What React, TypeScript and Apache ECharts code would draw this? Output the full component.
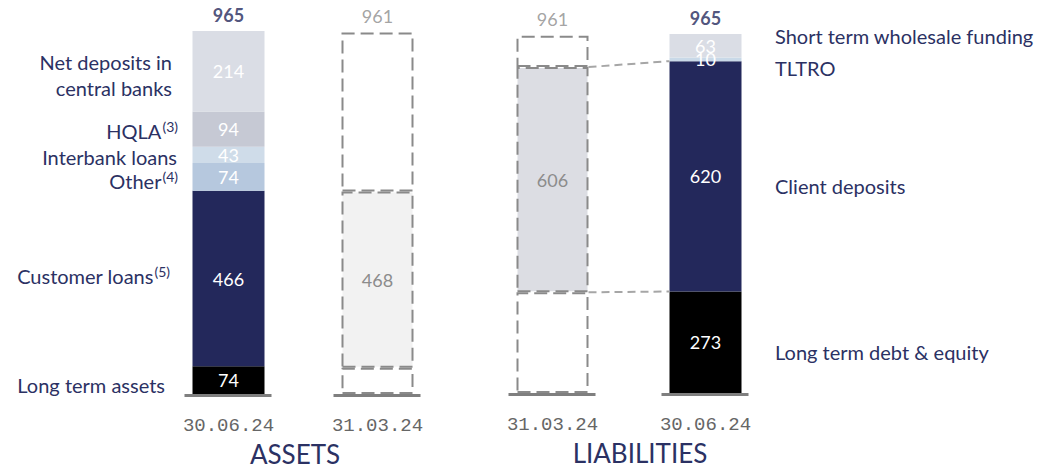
import React, { useEffect, useRef } from 'react';
import * as echarts from 'echarts';

const assetCategories = ['30.06.24', '31.03.24'];
const liabilityCategories = ['31.03.24', '30.06.24'];

const assetLongTerm = [74, 70];
const assetCustomerLoans = [466, 468];
const assetOther = [74, null];
const assetInterbank = [43, null];
const assetHQLA = [94, null];
const assetNetDeposits = [214, null];
const assetPriorRest = [null, 423];
const assetTotals = [965, 961];

const liabLongTerm = [271, 273];
const liabClientDeposits = [606, 620];
const liabTLTRO = [null, 10];
const liabShortTerm = [null, 63];
const liabPriorRest = [84, null];
const liabTotals = [961, 965];

const FONT = 'Lato';
const NAVY = '#23285b';
const TEXT = '#2b3163';
const GRAY_TXT = '#8c8c8c';
const DASH = '#8a8a8a';

const dashedWhite = { color: '#ffffff', borderColor: DASH, borderWidth: 2, borderType: [13, 6] };
const dashedLight = { color: '#f2f2f2', borderColor: DASH, borderWidth: 2, borderType: [13, 6] };
const dashedGray = { color: '#dcdde3', borderColor: DASH, borderWidth: 2, borderType: [13, 6] };

function mk(values: (number | null)[], currentIdx: number, curColor: string, priorStyle: any, priorLabel = false) {
  return values.map((v, i) => {
    if (v == null) return '-';
    if (i === currentIdx) {
      return { value: v, itemStyle: { color: curColor }, label: { show: true, color: '#ffffff' } };
    }
    return { value: v, itemStyle: priorStyle, label: { show: priorLabel, color: GRAY_TXT } };
  });
}

function barSeries(name: string, stack: string, axis: number, data: any[]) {
  return {
    name,
    type: 'bar',
    stack,
    xAxisIndex: axis,
    yAxisIndex: axis,
    barWidth: 72,
    data,
    label: { show: true, position: 'inside', fontSize: 18, fontFamily: FONT, color: '#ffffff' },
    emphasis: { disabled: true },
    z: 2,
  };
}

function totalSeries(axis: number, totals: number[], currentIdx: number) {
  return {
    type: 'scatter',
    xAxisIndex: axis,
    yAxisIndex: axis,
    symbolSize: 1,
    itemStyle: { color: 'transparent' },
    data: totals.map((t, i) => ({
      value: t,
      label: {
        show: true,
        position: 'top',
        distance: 7,
        fontFamily: FONT,
        fontSize: 18,
        fontWeight: i === currentIdx ? 'bold' : 'normal',
        color: i === currentIdx ? NAVY : GRAY_TXT,
        formatter: String(t),
      },
    })),
    z: 6,
  };
}

function baselineSeries(axis: number, cats: string[]) {
  return {
    type: 'custom',
    xAxisIndex: axis,
    yAxisIndex: axis,
    silent: true,
    data: cats.map((_, i) => [i, 0]),
    renderItem: (params: any, api: any) => {
      const p = api.coord([api.value(0), api.value(1)]);
      return {
        type: 'line',
        shape: { x1: p[0] - 44, y1: p[1] + 1.5, x2: p[0] + 43, y2: p[1] + 1.5 },
        style: { stroke: '#7f7f7f', lineWidth: 3 },
      };
    },
    z: 5,
  };
}

const connectorData = [
  [
    0,
    liabLongTerm[0],
    liabLongTerm[0] + liabClientDeposits[0],
    1,
    liabLongTerm[1],
    liabLongTerm[1] + liabClientDeposits[1],
  ],
];

function supText(main: string, sup: string) {
  return `{m|${main}}{s|${sup}}`;
}

export default function App() {
  const ref = useRef<HTMLDivElement>(null);
  useEffect(() => {
    if (!ref.current) return;
    const chart = echarts.init(ref.current, null, { renderer: 'svg' });
    const labelStyle = { fill: TEXT, fontFamily: FONT, fontSize: 20 };
    const rich = {
      m: { fontFamily: FONT, fontSize: 20, fill: TEXT, lineHeight: 24 },
      s: { fontFamily: FONT, fontSize: 14, fill: TEXT, verticalAlign: 'top', lineHeight: 15, padding: [0, 0, 0, 1] },
    };
    const option: any = {
      animation: false,
      backgroundColor: '#ffffff',
      grid: [
        { left: 154, width: 298, top: 31, bottom: 76, containLabel: false, outerBoundsMode: 'none' },
        { left: 476, width: 306, top: 34, bottom: 77, containLabel: false, outerBoundsMode: 'none' },
      ],
      xAxis: [
        {
          type: 'category',
          gridIndex: 0,
          data: assetCategories,
          axisLine: { show: false },
          axisTick: { show: false },
          axisLabel: { margin: 22, fontFamily: 'Liberation Mono', fontSize: 19, color: '#666666' },
          name: 'ASSETS',
          nameLocation: 'middle',
          nameGap: 39,
          nameTextStyle: { fontFamily: FONT, fontSize: 26, lineHeight: 28, color: TEXT, padding: [0, 16, 0, 0] },
        },
        {
          type: 'category',
          gridIndex: 1,
          data: liabilityCategories,
          axisLine: { show: false },
          axisTick: { show: false },
          axisLabel: { margin: 22, fontFamily: 'Liberation Mono', fontSize: 19, color: '#666666' },
          name: 'LIABILITIES',
          nameLocation: 'middle',
          nameGap: 46,
          nameTextStyle: { fontFamily: FONT, fontSize: 26, lineHeight: 28, color: TEXT, padding: [0, 0, 0, 22] },
        },
      ],
      yAxis: [
        { type: 'value', gridIndex: 0, min: 0, max: 965, show: false, splitLine: { show: false } },
        { type: 'value', gridIndex: 1, min: 0, max: 966, show: false, splitLine: { show: false } },
      ],
      series: [
        barSeries('Long term assets', 'a', 0, mk(assetLongTerm, 0, '#000000', dashedWhite)),
        barSeries('Customer loans', 'a', 0, mk(assetCustomerLoans, 0, NAVY, dashedLight, true)),
        barSeries('Other', 'a', 0, mk(assetOther, 0, '#b6c8de', dashedWhite)),
        barSeries('Interbank loans', 'a', 0, mk(assetInterbank, 0, '#cfdce9', dashedWhite)),
        barSeries('HQLA', 'a', 0, mk(assetHQLA, 0, '#c6c9d4', dashedWhite)),
        barSeries('Net deposits in central banks', 'a', 0, mk(assetNetDeposits, 0, '#dadde5', dashedWhite)),
        barSeries('Prior other assets', 'a', 0, mk(assetPriorRest, 0, '#ffffff', dashedWhite)),
        totalSeries(0, assetTotals, 0),
        baselineSeries(0, assetCategories),

        barSeries('Long term debt & equity', 'l', 1, mk(liabLongTerm, 1, '#000000', dashedWhite)),
        barSeries('Client deposits', 'l', 1, mk(liabClientDeposits, 1, NAVY, dashedGray, true)),
        barSeries('TLTRO', 'l', 1, mk(liabTLTRO, 1, '#c9d9e8', dashedWhite)),
        barSeries('Short term wholesale funding', 'l', 1, mk(liabShortTerm, 1, '#dadde5', dashedWhite)),
        barSeries('Prior other liabilities', 'l', 1, mk(liabPriorRest, 1, '#ffffff', dashedWhite)),
        totalSeries(1, liabTotals, 1),
        baselineSeries(1, liabilityCategories),
        {
          type: 'custom',
          xAxisIndex: 1,
          yAxisIndex: 1,
          silent: true,
          encode: { x: [0, 3], y: [1, 2, 4, 5] },
          data: connectorData,
          renderItem: (params: any, api: any) => {
            const a1 = api.coord([api.value(0), api.value(1)]);
            const a2 = api.coord([api.value(0), api.value(2)]);
            const b1 = api.coord([api.value(3), api.value(4)]);
            const b2 = api.coord([api.value(3), api.value(5)]);
            const style = { stroke: '#a6a6a6', lineWidth: 2, lineDash: [8, 5] };
            return {
              type: 'group',
              children: [
                { type: 'line', shape: { x1: a2[0] + 36, y1: a2[1], x2: b2[0] - 36, y2: b2[1] }, style },
                { type: 'line', shape: { x1: a1[0] + 36, y1: a1[1], x2: b1[0] - 36, y2: b1[1] }, style },
              ],
            };
          },
          z: 4,
        },
      ],
      graphic: [
        { type: 'text', x: 172, y: 75, style: { ...labelStyle, text: 'Net deposits in\ncentral banks', align: 'right', verticalAlign: 'middle', lineHeight: 26 } },
        { type: 'text', x: 178, y: 131, style: { text: supText('HQLA', '(3)'), rich, align: 'right', verticalAlign: 'middle' } },
        { type: 'text', x: 177, y: 157, style: { ...labelStyle, text: 'Interbank loans', align: 'right', verticalAlign: 'middle' } },
        { type: 'text', x: 178, y: 181, style: { text: supText('Other', '(4)'), rich, align: 'right', verticalAlign: 'middle' } },
        { type: 'text', x: 170, y: 276, style: { text: supText('Customer loans', '(5)'), rich, align: 'right', verticalAlign: 'middle' } },
        { type: 'text', x: 165, y: 385, style: { ...labelStyle, text: 'Long term assets', align: 'right', verticalAlign: 'middle' } },

        { type: 'text', x: 775, y: 36, style: { ...labelStyle, text: 'Short term wholesale funding', align: 'left', verticalAlign: 'middle' } },
        { type: 'text', x: 775, y: 68, style: { ...labelStyle, text: 'TLTRO', align: 'left', verticalAlign: 'middle' } },
        { type: 'text', x: 775, y: 186, style: { ...labelStyle, text: 'Client deposits', align: 'left', verticalAlign: 'middle' } },
        { type: 'text', x: 775, y: 352, style: { ...labelStyle, text: 'Long term debt & equity', align: 'left', verticalAlign: 'middle' } },
      ],
    };
    chart.setOption(option);
    return () => chart.dispose();
  }, []);
  return (
    <div
      ref={ref}
      style={{ position: 'absolute', left: 0, top: 0, width: 1041, height: 470, background: '#fff' }}
    />
  );
}
